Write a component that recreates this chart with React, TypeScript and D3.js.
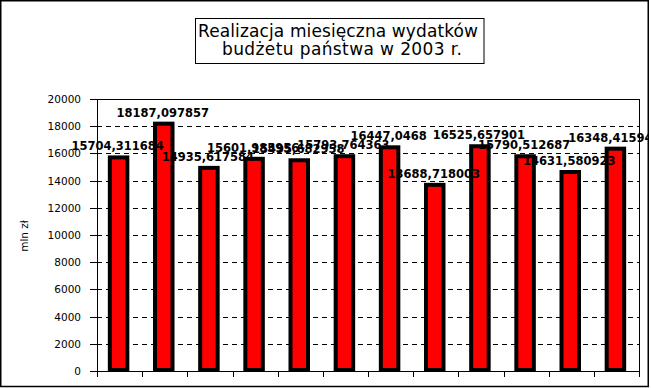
import React from "react";
import * as d3 from "d3";

const months = ["I", "II", "III", "IV", "V", "VI", "VII", "VIII", "IX", "X", "XI", "XII"];
const values = [
  15704.311684, 18187.097857, 14935.617584, 15601.985956, 15495.682958, 15793.764363,
  16447.0468, 13688.718003, 16525.657901, 15790.512687, 14631.580923, 16348.415943,
];
const yTicks = [0, 2000, 4000, 6000, 8000, 10000, 12000, 14000, 16000, 18000, 20000];
const titleLines = ["Realizacja miesięczna wydatków", "budżetu państwa w 2003 r."];
const yAxisTitle = "mln zł";

const W = 651;
const H = 388;
const plot = { left: 97, right: 639, top: 99, bottom: 371 };
const font = "'DejaVu Sans', Verdana, sans-serif";

export default function App() {
  const x = d3.scaleBand<string>().domain(months).range([plot.left, plot.right]).padding(0);
  const y = d3.scaleLinear().domain([0, 20000]).range([plot.bottom, plot.top]);
  const bw = 17.5;
  const boundaries = d3.range(months.length + 1).map((i) => plot.left + i * x.bandwidth());

  return (
    <svg
      width={W}
      height={H}
      style={{ position: "absolute", left: 0, top: 0, background: "#fff" }}
      fontFamily={font}
    >
      <defs>
        <clipPath id="outer">
          <rect x={0} y={0} width={648} height={387} />
        </clipPath>
      </defs>
      <rect x={0} y={0} width={W} height={H} fill="#fff" />

      {/* title */}
      <rect x={195.5} y={18.5} width={288.5} height={45} fill="#fff" stroke="#000" strokeWidth={1} />
      <text x={198} y={37} fontSize={17} textLength={280} lengthAdjust="spacing" fill="#000">
        {titleLines[0]}
      </text>
      <text x={222} y={55} fontSize={17} textLength={240} lengthAdjust="spacing" fill="#000">
        {titleLines[1]}
      </text>

      {/* gridlines */}
      {yTicks
        .filter((t) => t > 0 && t < 20000)
        .map((t) => (
          <line
            key={"g" + t}
            x1={plot.left}
            x2={plot.right}
            y1={Math.round(y(t)) + 0.5}
            y2={Math.round(y(t)) + 0.5}
            stroke="#000"
            strokeWidth={1}
            strokeDasharray="5,4"
          />
        ))}

      {/* plot frame */}
      <rect
        x={plot.left + 0.5}
        y={plot.top + 0.5}
        width={plot.right - plot.left}
        height={plot.bottom - plot.top}
        fill="none"
        stroke="#000"
        strokeWidth={1}
      />

      {/* y ticks + labels */}
      {yTicks.map((t) => (
        <g key={"t" + t}>
          <line
            x1={plot.left - 7}
            x2={plot.left}
            y1={Math.round(y(t)) + 0.5}
            y2={Math.round(y(t)) + 0.5}
            stroke="#000"
          />
          <text x={81} y={y(t) + 4} fontSize={10.5} textAnchor="end" fill="#000">
            {t}
          </text>
        </g>
      ))}

      {/* x ticks */}
      {boundaries.map((bx, i) => (
        <line
          key={"x" + i}
          x1={Math.round(bx) + 0.5}
          x2={Math.round(bx) + 0.5}
          y1={plot.bottom}
          y2={plot.bottom + 6}
          stroke="#000"
        />
      ))}

      {/* bars */}
      {values.map((v, i) => {
        const cx = (x(months[i]) as number) + x.bandwidth() / 2 - 1;
        return (
          <rect
            key={"b" + i}
            x={cx - bw / 2}
            y={y(v)}
            width={bw}
            height={y(0) - y(v) - 1}
            fill="#ff0000"
            stroke="#000"
            strokeWidth={4}
          />
        );
      })}

      {/* value labels */}
      <g clipPath="url(#outer)">
        {values.map((v, i) => {
          const cx = (x(months[i]) as number) + x.bandwidth() / 2 - 2;
          return (
            <text
              key={"l" + i}
              x={cx}
              y={y(v) - 7}
              fontSize={11.5}
              fontWeight="bold"
              textAnchor="middle"
              fill="#000"
            >
              {String(v).replace(".", ",")}
            </text>
          );
        })}
      </g>

      {/* y axis title */}
      <text
        transform="translate(28,236) rotate(-90)"
        fontSize={10.5}
        textAnchor="middle"
        fill="#000"
      >
        {yAxisTitle}
      </text>

      {/* outer border */}
      <rect x={0.75} y={0.75} width={647.5} height={385.75} fill="none" stroke="#000" strokeWidth={1.5} />
    </svg>
  );
}
